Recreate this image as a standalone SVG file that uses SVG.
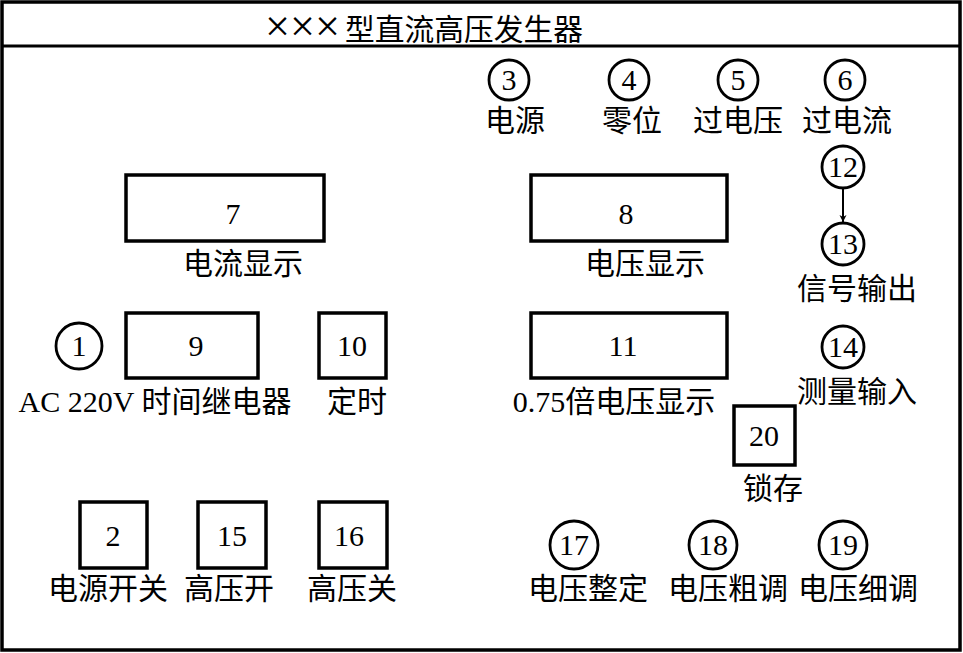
<svg xmlns="http://www.w3.org/2000/svg" width="963" height="653" viewBox="0 0 963 653">
<defs>
<marker id="arr" viewBox="0 0 10 10" refX="10" refY="5" markerWidth="7" markerHeight="10" orient="auto" markerUnits="userSpaceOnUse">
<path d="M0,0 L10,5 L0,10 L3,5 Z" fill="#000"/>
</marker>
</defs>
<style>
.box{fill:#fff;stroke:#000;stroke-width:3.5}
.cir{fill:#fff;stroke:#000;stroke-width:2.8}
.num{font-family:"Liberation Serif",serif;font-size:30px;text-anchor:middle;fill:#000}
.lbl{font-family:"Liberation Serif","Noto Sans CJK SC",serif;font-size:30px;text-anchor:middle;fill:#000}
.ttl{font-family:"Liberation Serif","Noto Sans CJK SC",serif;font-size:30px;fill:#000}
.conn{stroke:#000;stroke-width:2;fill:none}
</style>
<rect x="0" y="0" width="963" height="653" fill="#fff"/>
<g id="frame">
<rect x="2" y="2" width="958" height="648" fill="none" stroke="#000" stroke-width="3.5"/>
<line x1="2" y1="46" x2="960" y2="46" stroke="#000" stroke-width="3"/>
<text x="265" y="41" class="ttl" textLength="75" lengthAdjust="spacingAndGlyphs" style="font-size:44px;font-weight:300">×××</text>
<text x="345" y="40" class="ttl" textLength="238" lengthAdjust="spacingAndGlyphs">型直流高压发生器</text>
</g>
<g id="n3"><circle cx="509" cy="80" r="20" class="cir"/><text x="509" y="90" class="num">3</text><text x="515" y="131" class="lbl">电源</text></g>
<g id="n4"><circle cx="629" cy="80" r="20" class="cir"/><text x="629" y="90" class="num">4</text><text x="632" y="131" class="lbl">零位</text></g>
<g id="n5"><circle cx="738" cy="80" r="20" class="cir"/><text x="738" y="90" class="num">5</text><text x="738" y="131" class="lbl">过电压</text></g>
<g id="n6"><circle cx="845" cy="80" r="20" class="cir"/><text x="845" y="90" class="num">6</text><text x="847" y="131" class="lbl">过电流</text></g>
<g id="n12"><circle cx="843" cy="167" r="21" class="cir"/><text x="843" y="177" class="num">12</text></g>
<g id="n13"><circle cx="843" cy="244" r="21" class="cir"/><text x="843" y="254" class="num">13</text><text x="857" y="299" class="lbl">信号输出</text></g>
<g id="n14"><circle cx="843" cy="347" r="21" class="cir"/><text x="843" y="357" class="num">14</text><text x="857" y="402" class="lbl">测量输入</text></g>
<g id="n7"><rect x="126" y="175" width="198" height="66" class="box"/><text x="233" y="224" class="num">7</text><text x="243" y="274" class="lbl">电流显示</text></g>
<g id="n8"><rect x="531" y="175" width="196" height="66" class="box"/><text x="626" y="224" class="num">8</text><text x="645" y="274" class="lbl">电压显示</text></g>
<g id="n1"><circle cx="79" cy="346" r="23" class="cir"/><text x="79" y="356" class="num">1</text></g>
<g id="n9"><rect x="126" y="313" width="132" height="65" class="box"/><text x="196" y="356" class="num">9</text><text x="155" y="412" class="lbl">AC 220V 时间继电器</text></g>
<g id="n10"><rect x="319" y="313" width="67" height="65" class="box"/><text x="352" y="356" class="num">10</text><text x="357" y="412" class="lbl">定时</text></g>
<g id="n11"><rect x="531" y="313" width="196" height="65" class="box"/><text x="623" y="356" class="num">11</text><text x="614" y="412" class="lbl">0.75倍电压显示</text></g>
<g id="n20"><rect x="734" y="406" width="61" height="59" class="box"/><text x="764" y="446" class="num">20</text><text x="773" y="499" class="lbl">锁存</text></g>
<g id="n2"><rect x="80" y="502" width="67" height="66" class="box"/><text x="113" y="546" class="num">2</text><text x="108" y="599" class="lbl">电源开关</text></g>
<g id="n15"><rect x="198" y="502" width="68" height="66" class="box"/><text x="232" y="546" class="num">15</text><text x="229" y="599" class="lbl">高压开</text></g>
<g id="n16"><rect x="319" y="502" width="68" height="66" class="box"/><text x="349" y="546" class="num">16</text><text x="352" y="599" class="lbl">高压关</text></g>
<g id="n17"><circle cx="574" cy="545" r="24" class="cir"/><text x="574" y="555" class="num">17</text><text x="588" y="599" class="lbl">电压整定</text></g>
<g id="n18"><circle cx="713" cy="545" r="24" class="cir"/><text x="713" y="555" class="num">18</text><text x="728" y="599" class="lbl">电压粗调</text></g>
<g id="n19"><circle cx="843" cy="545" r="24" class="cir"/><text x="843" y="555" class="num">19</text><text x="858" y="599" class="lbl">电压细调</text></g>
<g id="connectors">
<line x1="843" y1="189" x2="843" y2="222" class="conn" marker-end="url(#arr)"/>
</g>
</svg>
